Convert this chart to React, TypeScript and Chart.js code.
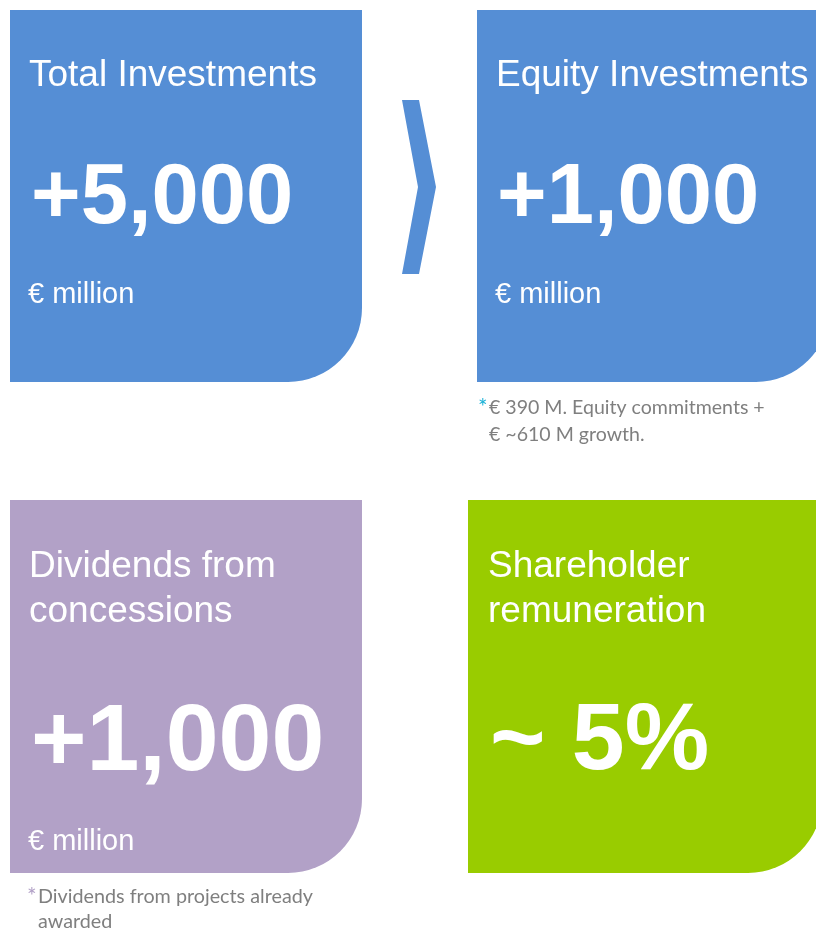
import React, { useEffect, useRef } from "react";
import { Chart, registerables } from "chart.js";

Chart.register(...registerables);

// ---- content ----
const titles: string[][] = [
  ["Total Investments"],
  ["Equity Investments"],
  ["Dividends from", "concessions"],
  ["Shareholder", "remuneration"],
];
const values: number[] = [5000, 1000, 1000, 5];
const valuePrefixes: string[] = ["+", "+", "+", "~ "];
const valueSuffixes: string[] = ["", "", "", "%"];
const units: string[] = ["€ million", "€ million", "€ million", ""];
const footnotes: string[][] = [
  [],
  ["€ 390 M. Equity commitments +", "€ ~610 M growth."],
  ["Dividends from projects already", "awarded"],
  [],
];
const tileColors: string[] = ["#558ED5", "#558ED5", "#B2A1C7", "#99CC00"];
const asteriskColors: string[] = ["", "#1FB3D8", "#B2A1C7", ""];

// ---- layout (pixels in the 816 x 932 frame) ----
const W = 816;
const H = 932;
const tileLayout = [
  { x: 10, y: 10, w: 352, h: 372, tx: 29, vx: 31, titleY: 86, valueY: 223, valueSize: 85, unitY: 303, footX: 489, footY: 414, footLH: 27, footW: 276, astX: 478 },
  { x: 477, y: 10, w: 353, h: 372, tx: 496, vx: 497, titleY: 86, valueY: 223, valueSize: 85, unitY: 303, footX: 489, footY: 414, footLH: 27, footW: 276, astX: 478 },
  { x: 10, y: 500, w: 352, h: 373, tx: 29, vx: 31, titleY: 577, valueY: 770, valueSize: 95, unitY: 850, footX: 38, footY: 903, footLH: 25, footW: 275, astX: 27 },
  { x: 468, y: 500, w: 354, h: 373, tx: 488, vx: 490, titleY: 577, valueY: 769, valueSize: 95, unitY: 850, footX: 38, footY: 903, footLH: 25, footW: 275, astX: 27 },
];
const cornerRadius = 74;
const titleSize = 37;
const titleLineHeight = 45;
const unitSize = 29;
const chevron = [
  [402, 100], [419, 100], [436, 187], [419, 274], [402, 274], [418, 187],
];
const sans = "'Liberation Sans', Arial, sans-serif";
const noteFont = "Lato, 'Open Sans', sans-serif";

function formatValue(i: number): string {
  return valuePrefixes[i] + values[i].toLocaleString("en-US") + valueSuffixes[i];
}

const tilesPlugin = {
  id: "tiles",
  afterDraw(chart: any) {
    const ctx: CanvasRenderingContext2D = chart.ctx;
    const xs = chart.scales.x;
    const ys = chart.scales.y;
    const px = (v: number) => xs.getPixelForValue(v);
    const py = (v: number) => ys.getPixelForValue(v);
    ctx.save();

    // tiles
    tileLayout.forEach((t, i) => {
      const x0 = px(t.x), y0 = py(t.y), x1 = px(t.x + t.w), y1 = py(t.y + t.h);
      const r = cornerRadius;
      ctx.beginPath();
      ctx.moveTo(x0, y0);
      ctx.lineTo(x1, y0);
      ctx.lineTo(x1, y1 - r);
      ctx.arcTo(x1, y1, x1 - r, y1, r);
      ctx.lineTo(x0, y1);
      ctx.closePath();
      ctx.fillStyle = tileColors[i];
      ctx.fill();

      ctx.fillStyle = "#FFFFFF";
      ctx.textAlign = "left";
      ctx.textBaseline = "alphabetic";
      ctx.font = `${titleSize}px ${sans}`;
      titles[i].forEach((line, k) => {
        ctx.fillText(line, px(t.tx), py(t.titleY + k * titleLineHeight));
      });
      ctx.font = `bold ${t.valueSize}px ${sans}`;
      ctx.fillText(formatValue(i), px(t.vx), py(t.valueY));
      if (units[i]) {
        ctx.font = `${unitSize}px ${sans}`;
        ctx.fillText(units[i], px(t.tx - 1), py(t.unitY));
      }

      // footnotes
      if (footnotes[i].length) {
        ctx.font = `20px ${noteFont}`;
        const m = ctx.measureText(footnotes[i][0]).width;
        const size = (20 * t.footW) / m;
        ctx.font = `${size}px ${noteFont}`;
        ctx.fillStyle = "#7F7F7F";
        footnotes[i].forEach((line, k) => {
          ctx.fillText(line, px(t.footX), py(t.footY + k * t.footLH));
        });
        ctx.font = `${size * 1.15}px ${noteFont}`;
        ctx.fillStyle = asteriskColors[i];
        ctx.fillText("*", px(t.astX), py(t.footY + 1));
      }
    });

    // chevron between the two top tiles
    ctx.beginPath();
    chevron.forEach(([cx, cy], k) => {
      if (k === 0) ctx.moveTo(px(cx), py(cy));
      else ctx.lineTo(px(cx), py(cy));
    });
    ctx.closePath();
    ctx.fillStyle = tileColors[0];
    ctx.fill();

    ctx.restore();
  },
};

export default function App() {
  const ref = useRef<HTMLCanvasElement | null>(null);

  useEffect(() => {
    document.body.style.margin = "0";
    const canvas = ref.current;
    if (!canvas) return;
    const chart = new Chart(canvas, {
      type: "scatter",
      data: { datasets: [{ data: [] }] },
      options: {
        animation: false,
        responsive: false,
        maintainAspectRatio: false,
        devicePixelRatio: 1,
        events: [],
        layout: { padding: 0 },
        plugins: { legend: { display: false }, tooltip: { enabled: false }, title: { display: false } },
        scales: {
          x: { type: "linear", min: 0, max: W, display: false },
          y: { type: "linear", min: 0, max: H, reverse: true, display: false },
        },
      },
      plugins: [tilesPlugin],
    });
    return () => chart.destroy();
  }, []);

  return (
    <div style={{ width: W, height: H, background: "#FFFFFF" }}>
      <canvas ref={ref} width={W} height={H} style={{ display: "block" }} />
    </div>
  );
}
